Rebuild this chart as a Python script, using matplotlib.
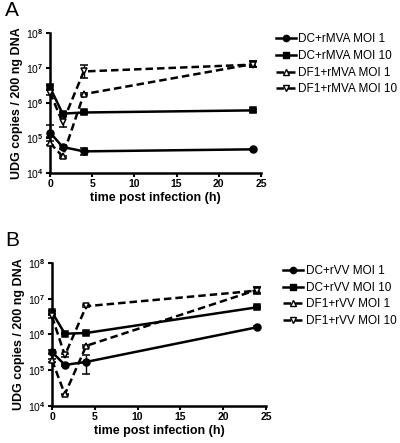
import matplotlib
matplotlib.use('Agg')
import matplotlib.pyplot as plt
from matplotlib.lines import Line2D
import numpy as np

plt.rcParams['font.family'] = ['Liberation Sans', 'DejaVu Sans']
plt.rcParams['mathtext.fontset'] = 'custom'
plt.rcParams['mathtext.rm'] = 'Liberation Sans:bold'
plt.rcParams['mathtext.it'] = 'Liberation Sans:bold'
plt.rcParams['mathtext.bf'] = 'Liberation Sans:bold'

# time points (h)
t = [0, 1.5, 4, 24]

# panel A - rMVA
a_labels = ['DC+rMVA MOI 1', 'DC+rMVA MOI 10', 'DF1+rMVA MOI 1', 'DF1+rMVA MOI 10']
a_vals = [
    [1.45e5, 5.6e4, 4.2e4, 4.8e4],
    [2.8e6, 5.0e5, 5.4e5, 6.2e5],
    [7.3e4, 3.0e4, 1.8e6, 1.3e7],
    [2.0e6, 2.8e5, 8.0e6, 1.25e7],
]
a_lo = [
    [1.1e5, 5.0e4, 3.3e4, 4.6e4],
    [2.4e6, 4.5e5, 5.0e5, 5.6e5],
    [6.3e4, 2.8e4, 1.65e6, 1.05e7],
    [1.7e6, 2.1e5, 5.2e6, 1.05e7],
]
a_hi = [
    [2.3e5, 6.2e4, 5.2e4, 5.0e4],
    [3.3e6, 5.6e5, 5.8e5, 6.8e5],
    [8.3e4, 3.2e4, 2.0e6, 1.55e7],
    [2.3e6, 4.2e5, 1.2e7, 1.6e7],
]

# panel B - rVV
b_labels = ['DC+rVV MOI 1', 'DC+rVV MOI 10', 'DF1+rVV MOI 1', 'DF1+rVV MOI 10']
b_vals = [
    [3.2e5, 1.4e5, 1.7e5, 1.6e6],
    [4.2e6, 1.05e6, 1.1e6, 5.8e6],
    [1.9e5, 2.1e4, 4.8e5, 1.8e7],
    [3.2e6, 2.6e5, 6.2e6, 1.7e7],
]
b_lo = [
    [2.8e5, 1.3e5, 8.0e4, 1.5e6],
    [3.8e6, 1.0e6, 1.05e6, 5.5e6],
    [1.7e5, 2.0e4, 4.5e5, 1.45e7],
    [2.9e6, 2.4e5, 5.9e6, 1.4e7],
]
b_hi = [
    [3.6e5, 1.5e5, 2.6e5, 1.7e6],
    [4.6e6, 1.1e6, 1.15e6, 6.1e6],
    [2.1e5, 2.2e4, 5.1e5, 2.2e7],
    [3.5e6, 2.8e5, 6.5e6, 2.1e7],
]

markers = ['o', 's', '^', 'v']
styles = ['-', '-', '--', '--']
fills = ['black', 'black', 'white', 'white']
ticklabels = ['10$^{4}$', '10$^{5}$', '10$^{6}$', '10$^{7}$', '10$^{8}$']

fig = plt.figure(figsize=(4.0, 4.43), dpi=100)


def panel(rect, vals, lo, hi, labels, leg_anchor, letter, letter_y):
    ax = fig.add_axes(rect)
    handles = []
    for i in range(4):
        v = np.array(vals[i])
        err = [v - np.array(lo[i]), np.array(hi[i]) - v]
        dash = (3, 1.6) if styles[i] == '--' else (None, None)
        ax.errorbar(t, v, yerr=err, color='black', ls=styles[i], lw=1.8,
                    marker=markers[i], ms=5, mfc=fills[i], mec='black', mew=1.1,
                    capsize=3, elinewidth=1.0, capthick=1.0,
                    dashes=dash, clip_on=False, zorder=3)
        h = Line2D([], [], color='black', ls=styles[i], lw=1.8, marker=markers[i],
                   ms=4.5, mfc=fills[i], mec='black', mew=1.0)
        if styles[i] == '--':
            h.set_dashes((3, 1.6))
        handles.append(h)
    ax.set_yscale('log')
    ax.set_ylim(1e4, 1e8)
    ax.set_xlim(0, 25)
    ax.set_yticks([1e4, 1e5, 1e6, 1e7, 1e8])
    ax.set_yticklabels(ticklabels)
    ax.yaxis.set_minor_locator(matplotlib.ticker.NullLocator())
    ax.set_xticks([0, 5, 10, 15, 20, 25])
    ax.spines['top'].set_visible(False)
    ax.spines['right'].set_visible(False)
    ax.spines['left'].set_linewidth(1.8)
    ax.spines['bottom'].set_linewidth(1.8)
    ax.tick_params(width=1.5, length=3, pad=1.5, labelsize=7.5)
    for lab in ax.get_xticklabels():
        lab.set_fontweight('bold')
    ax.set_xlabel('time post infection (h)', fontsize=9, fontweight='bold', labelpad=2)
    ax.set_ylabel('UDG copies / 200 ng DNA', fontsize=9, fontweight='bold', labelpad=2)
    ax.legend(handles, labels, loc='upper left', bbox_to_anchor=leg_anchor,
              bbox_transform=fig.transFigure, frameon=False, fontsize=8.5,
              handlelength=1.7, handletextpad=0.2, labelspacing=0.4,
              borderaxespad=0, borderpad=0)
    fig.text(0.012, letter_y, letter, fontsize=15, va='top')
    return ax


panel([0.125, 0.609, 0.5275, 0.3165], a_vals, a_lo, a_hi, a_labels,
      (0.69, 0.925), 'A', 0.998)
panel([0.13, 0.084, 0.535, 0.322], b_vals, b_lo, b_hi, b_labels,
      (0.708, 0.402), 'B', 0.478)

fig.savefig('out.png', dpi=100)
